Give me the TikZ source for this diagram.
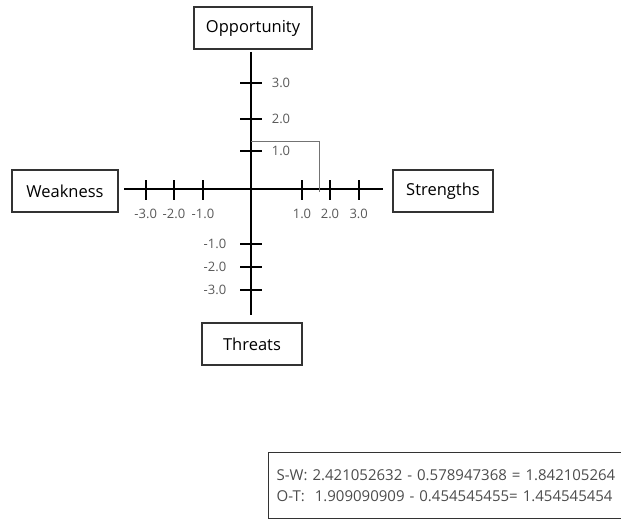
\documentclass[tikz,border=0pt]{standalone}
\usepackage{fontspec}
\setmainfont{Open Sans}
\begin{document}
\begin{tikzpicture}
[x=1pt,y=-1pt,
  boxdecorate/.style={shape=rectangle,draw=black!80,line width=1.6pt,inner sep=0pt,
    minimum height=42pt,font=\fontsize{16.5}{19}\selectfont},
  axisdecorate/.style={-,line width=2.4pt},
  tickdecorate/.style={-,line width=2pt},
  labeldecorate/.style={font=\fontsize{13}{15}\selectfont,text=black!65}]
\useasboundingbox (0,0) rectangle (621,519);
%% boxes
\foreach \nodename/\x/\y/\w/\boxtext in {opp/253/28/118/Opportunity,
  weak/65/191/106/Weakness, str/443/191/100/Strengths, thr/252/344/100/Threats} {
  \node (\nodename) at (\x,\y) [boxdecorate,minimum width=\w pt] {\boxtext};
}
%% axes
\coordinate (o) at (251,189);
\coordinate (top) at (251,52);
\coordinate (bottom) at (251,315);
\coordinate (left) at (124,189);
\coordinate (right) at (383,189);
\draw[axisdecorate] (top) -- (bottom);
\draw[axisdecorate] (left) -- (right);
%% ticks and labels
\foreach \x/\lab in {145.7/-3.0, 174/-2.0, 203/-1.0, 302/1.0, 330/2.0, 358.7/3.0} {
  \draw[tickdecorate] (\x,180) -- (\x,200);
  \node[labeldecorate] at (\x,214) {\lab};
}
\foreach \y/\lab/\lx in {83.3/3.0/281, 119/2.0/281, 150.7/1.0/281,
  244/-1.0/215, 266.7/-2.0/215, 290/-3.0/215} {
  \draw[tickdecorate] (240,\y) -- (262,\y);
  \node[labeldecorate] at (\lx,\y) {\lab};
}
%% result point
\coordinate (p) at (319,141);
\draw[black!55,line width=0.9pt] (o |- p) -- (p) -- (p |- 0,192);
%% result box
\node (result) at (268,452) [anchor=north west,draw=black!80,line width=1.2pt,
  minimum width=380pt,minimum height=66pt,inner xsep=8pt,align=left,
  text=black!70,font=\fontsize{15}{21}\selectfont,text width=364pt]
  {S-W: 2.421052632 - 0.578947368 = 1.842105264\\
   O-T:\ \ 1.909090909 - 0.454545455= 1.454545454};
\end{tikzpicture}
\end{document}
